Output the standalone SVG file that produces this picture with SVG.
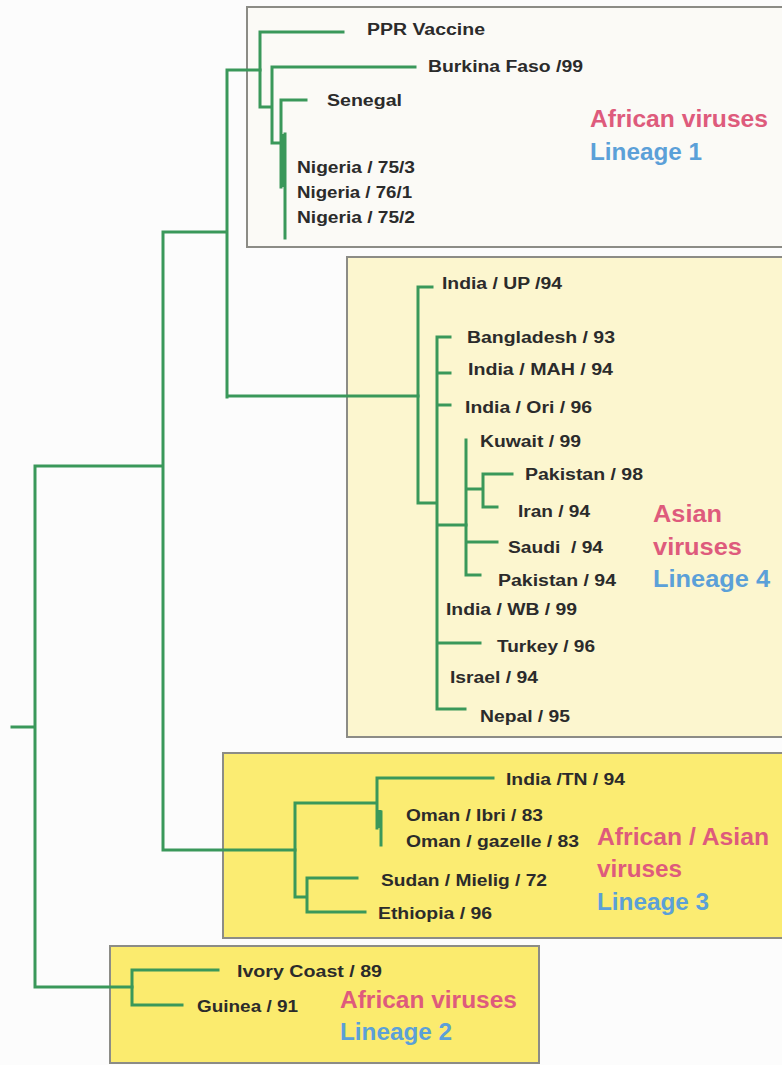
<svg xmlns="http://www.w3.org/2000/svg" width="782" height="1065" viewBox="0 0 782 1065">
<style>
.box{stroke:#8c8c86;stroke-width:2}
.br{fill:none;stroke:#3a985a;stroke-width:3;stroke-linecap:square}
.lb{font-family:"Liberation Sans",Arial,sans-serif;font-weight:bold;font-size:16px;fill:#2b2b2b}
.pk{font-family:"Liberation Sans",Arial,sans-serif;font-weight:bold;font-size:23px;fill:#de5b7c}
.bl{font-family:"Liberation Sans",Arial,sans-serif;font-weight:bold;font-size:23px;fill:#5ba0d8}
</style>
<rect x="0" y="0" width="782" height="1065" fill="#fcfcfc"/>

<g id="lineage1">
<rect class="box" x="247" y="7" width="545" height="240" fill="#fbfaf6"/>
<text class="lb" x="367" y="35" textLength="118" lengthAdjust="spacingAndGlyphs">PPR Vaccine</text>
<text class="lb" x="428" y="72" textLength="155" lengthAdjust="spacingAndGlyphs">Burkina Faso /99</text>
<text class="lb" x="327" y="106" textLength="75" lengthAdjust="spacingAndGlyphs">Senegal</text>
<text class="lb" x="297" y="173" textLength="118" lengthAdjust="spacingAndGlyphs">Nigeria / 75/3</text>
<text class="lb" x="297" y="198" textLength="115" lengthAdjust="spacingAndGlyphs">Nigeria / 76/1</text>
<text class="lb" x="297" y="223" textLength="118" lengthAdjust="spacingAndGlyphs">Nigeria / 75/2</text>
<text class="pk" x="590" y="127" textLength="178" lengthAdjust="spacingAndGlyphs">African viruses</text>
<text class="bl" x="590" y="160" textLength="112" lengthAdjust="spacingAndGlyphs">Lineage 1</text>
</g>

<g id="lineage4">
<rect class="box" x="347" y="257" width="445" height="480" fill="#fcf6cf"/>
<text class="lb" x="442" y="289" textLength="120" lengthAdjust="spacingAndGlyphs">India / UP /94</text>
<text class="lb" x="467" y="343" textLength="148" lengthAdjust="spacingAndGlyphs">Bangladesh / 93</text>
<text class="lb" x="468" y="375" textLength="145" lengthAdjust="spacingAndGlyphs">India / MAH / 94</text>
<text class="lb" x="465" y="413" textLength="127" lengthAdjust="spacingAndGlyphs">India / Ori / 96</text>
<text class="lb" x="480" y="447" textLength="101" lengthAdjust="spacingAndGlyphs">Kuwait / 99</text>
<text class="lb" x="525" y="480" textLength="118" lengthAdjust="spacingAndGlyphs">Pakistan / 98</text>
<text class="lb" x="518" y="517" textLength="72" lengthAdjust="spacingAndGlyphs">Iran / 94</text>
<text class="lb" x="508" y="553" textLength="95" lengthAdjust="spacingAndGlyphs" xml:space="preserve">Saudi  / 94</text>
<text class="lb" x="498" y="586" textLength="118" lengthAdjust="spacingAndGlyphs">Pakistan / 94</text>
<text class="lb" x="446" y="615" textLength="131" lengthAdjust="spacingAndGlyphs">India / WB / 99</text>
<text class="lb" x="497" y="652" textLength="98" lengthAdjust="spacingAndGlyphs">Turkey / 96</text>
<text class="lb" x="450" y="683" textLength="88" lengthAdjust="spacingAndGlyphs">Israel / 94</text>
<text class="lb" x="480" y="722" textLength="90" lengthAdjust="spacingAndGlyphs">Nepal / 95</text>
<text class="pk" x="653" y="522" textLength="69" lengthAdjust="spacingAndGlyphs">Asian</text>
<text class="pk" x="653" y="555" textLength="89" lengthAdjust="spacingAndGlyphs">viruses</text>
<text class="bl" x="653" y="587" textLength="117" lengthAdjust="spacingAndGlyphs">Lineage 4</text>
</g>

<g id="lineage3">
<rect class="box" x="223" y="753" width="569" height="185" fill="#fbec72"/>
<text class="lb" x="506" y="785" textLength="119" lengthAdjust="spacingAndGlyphs">India /TN / 94</text>
<text class="lb" x="406" y="821" textLength="137" lengthAdjust="spacingAndGlyphs">Oman / Ibri / 83</text>
<text class="lb" x="406" y="847" textLength="173" lengthAdjust="spacingAndGlyphs">Oman / gazelle / 83</text>
<text class="lb" x="381" y="886" textLength="166" lengthAdjust="spacingAndGlyphs">Sudan / Mielig / 72</text>
<text class="lb" x="378" y="919" textLength="114" lengthAdjust="spacingAndGlyphs">Ethiopia / 96</text>
<text class="pk" x="597" y="845" textLength="172" lengthAdjust="spacingAndGlyphs">African / Asian</text>
<text class="pk" x="597" y="877" textLength="85" lengthAdjust="spacingAndGlyphs">viruses</text>
<text class="bl" x="597" y="910" textLength="112" lengthAdjust="spacingAndGlyphs">Lineage 3</text>
</g>

<g id="lineage2">
<rect class="box" x="110" y="946" width="429" height="117" fill="#fbeb6e"/>
<text class="lb" x="237" y="977" textLength="145" lengthAdjust="spacingAndGlyphs">Ivory Coast / 89</text>
<text class="lb" x="197" y="1012" textLength="101" lengthAdjust="spacingAndGlyphs">Guinea / 91</text>
<text class="pk" x="340" y="1008" textLength="177" lengthAdjust="spacingAndGlyphs">African viruses</text>
<text class="bl" x="340" y="1040" textLength="112" lengthAdjust="spacingAndGlyphs">Lineage 2</text>
</g>

<g id="connectors">
<path class="br" d="M12 727 H35 M35 466 V987 H132 M35 466 H163 M163 232 V849 M163 232 H227 M227 70 V397 M227 70 H260 M227 396 H418 M163 850 H295"/>
<path class="br" d="M260 32 V107 M260 32 H343 M260 107 H272 M272 67 V143 M272 67 H415 M272 143 H281 M281 100 V187 M281 100 H306 M285 134 V238"/>
<path d="M283 134 V187" stroke="#3a985a" stroke-width="5" fill="none"/>
<path class="br" d="M418 287 V503 M418 287 H432 M418 503 H437 M437 337 V709 M437 337 H450 M437 373 H450 M437 405 H450 M437 525 H466 M437 643 H480 M437 709 H465"/>
<path class="br" d="M466 440 V575 M466 575 H480 M466 542 H497 M466 489 H483 M483 474 V507 M483 474 H512 M483 507 H497"/>
<path class="br" d="M295 803 V897 M295 803 H377 M377 778 V828 M377 778 H493 M381 812 V845 M295 897 H307 M307 878 V912 M307 878 H357 M307 912 H365"/>
<path d="M379 810 V828" stroke="#3a985a" stroke-width="5" fill="none"/>
<path class="br" d="M132 970 V1005 M132 970 H218 M132 1005 H182"/>
</g>
</svg>
